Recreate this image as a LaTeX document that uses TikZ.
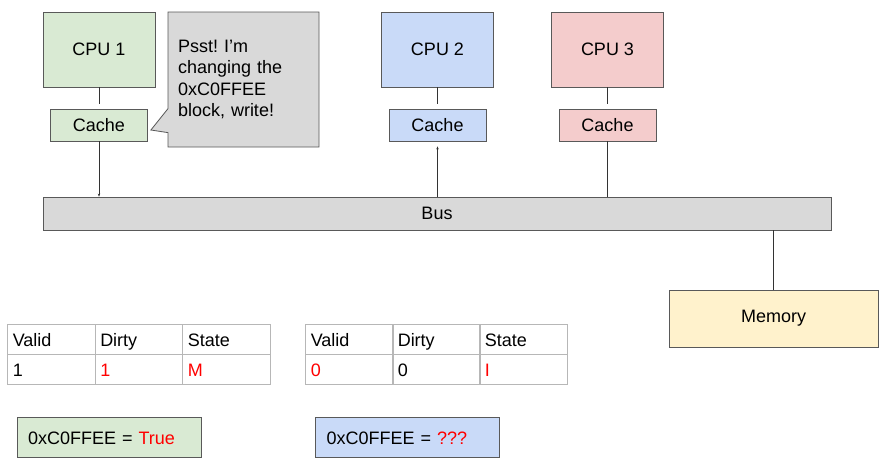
\documentclass[tikz,border=0pt]{standalone}
\usepackage{fontspec}
\setmainfont{Liberation Sans}
\usetikzlibrary{arrows.meta,shapes.callouts}
\definecolor{cpugreen}{HTML}{D9EAD3}
\definecolor{cpublue}{HTML}{C9DAF8}
\definecolor{cpured}{HTML}{F4CCCC}
\definecolor{busgray}{HTML}{D9D9D9}
\definecolor{memyellow}{HTML}{FFF2CC}
\definecolor{edgegray}{HTML}{595959}
\definecolor{tablegray}{HTML}{B7B7B7}
\definecolor{wiregray}{HTML}{333333}
\definecolor{alertred}{HTML}{FF0000}
\frenchspacing

\begin{document}
\begin{tikzpicture}[x=1pt,y=-1pt,font=\fontsize{18}{21.5}\selectfont,box/.style={draw=edgegray, line width=0.8pt, inner sep=0pt},cpu/.style={box, minimum width=112pt, minimum height=75pt},cache/.style={box, minimum width=97pt, minimum height=32pt},cell/.style={draw=tablegray, line width=0.8pt, text width=77.5pt, inner xsep=5pt, inner ysep=0pt, text height=19pt, text depth=4pt, minimum height=30pt, align=left},wire/.style={draw=wiregray, line width=0.8pt},tip/.style={-{Stealth[length=3pt,width=2.5pt]}},flag/.style={box, minimum width=184pt, minimum height=40pt, text width=162pt, inner xsep=11pt, text height=18pt, text depth=4pt, align=left},hot/.style={text=alertred}]
\useasboundingbox (0,0) rectangle (885,461);
% processors and their caches
\node[cpu, fill=cpugreen] (cpu1) at (99,49.5) {CPU 1};\node[cache, fill=cpugreen] (cache1) at (99,125) {Cache};
\node[cpu, fill=cpublue] (cpu2) at (437.5,49.5) {CPU 2};\node[cache, fill=cpublue] (cache2) at (437.5,125) {Cache};
\node[cpu, fill=cpured] (cpu3) at (607.5,49.5) {CPU 3};\node[cache, fill=cpured] (cache3) at (607.5,125) {Cache};
\node[box, fill=busgray, minimum width=788pt, minimum height=33pt] (bus) at (437,213.5) {Bus};
\node[box, fill=memyellow, minimum width=209pt, minimum height=57pt] (memory) at (773.5,318.5) {Memory};
\node[rectangle callout, draw=edgegray, line width=0.8pt, fill=busgray, minimum width=151pt, minimum height=135pt, text width=131pt, inner xsep=10pt, align=left, callout pointer width=24pt, callout absolute pointer={([xshift=3pt,yshift=-5pt]cache1.east)}] (shout) at (243.5,79.5) {\raisebox{-3pt}{\parbox{131pt}{Psst! I’m\\changing the\\0xC0FFEE\\block, write!}}};
\draw[wire, shorten >=5pt] (cpu1) -- (cache1);\draw[wire, shorten >=5pt] (cpu2) -- (cache2);\draw[wire, shorten >=5pt] (cpu3) -- (cache3);
\draw[wire, tip] (cache1.south) -- (cache1.south |- bus.north);
\draw[wire, tip, shorten >=5pt] (cache2.south |- bus.north) -- (cache2.south);
\draw[wire] (cache3.south) -- (cache3.south |- bus.north);
\draw[wire] (memory.north |- bus.south) -- (memory.north);
% state tables
\node[cell] (v1) at (51.5,339) {Valid};\node[cell] (d1) at (139,339) {Dirty};\node[cell] (s1) at (226.5,339) {State};
\node[cell] (vv1) at (51.5,369) {1};\node[cell, hot] (dd1) at (139,369) {1};\node[cell, hot] (ss1) at (226.5,369) {M};
\node[cell] (v2) at (349.5,339) {Valid};\node[cell] (d2) at (436.5,339) {Dirty};\node[cell] (s2) at (523.5,339) {State};
\node[cell, hot] (vv2) at (349.5,369) {0};\node[cell] (dd2) at (436.5,369) {0};\node[cell, hot] (ss2) at (523.5,369) {I};
\node[flag, fill=cpugreen] (view1) at (109,437) {0xC0FFEE = \textcolor{alertred}{True}};
\node[flag, fill=cpublue] (view2) at (407.5,437) {0xC0FFEE = \textcolor{alertred}{???}};
\end{tikzpicture}
\end{document}
